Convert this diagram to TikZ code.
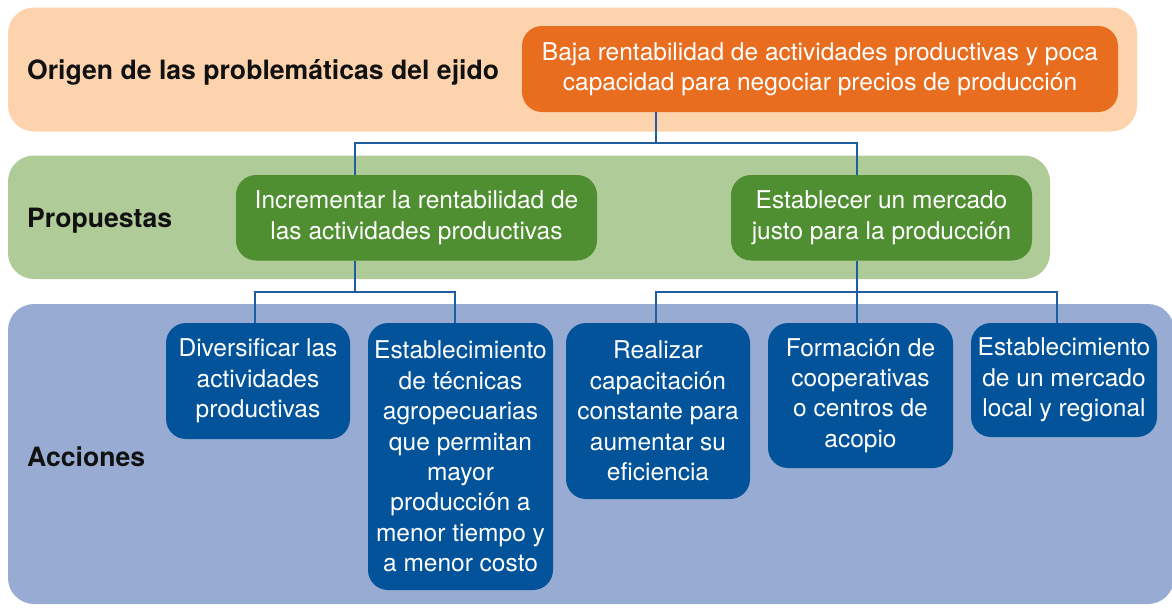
\documentclass[tikz,border=0pt]{standalone}
\usepackage{fontspec}
\setmainfont{TeX Gyre Heros}
\definecolor{bandO}{HTML}{FDD3AD}
\definecolor{bandG}{HTML}{AFCB98}
\definecolor{bandB}{HTML}{98ACD3}
\definecolor{boxO}{HTML}{E86D1F}
\definecolor{boxG}{HTML}{4F8E31}
\definecolor{boxB}{HTML}{02539A}
\definecolor{connC}{HTML}{1D5DA0}
\definecolor{labC}{HTML}{111111}
\tikzset{
  band/.style={rounded corners=26pt},
  box/.style={rounded corners=20pt, inner sep=0pt, align=center, text=white,
    font=\fontsize{24.5}{30.4}\selectfont},
  obox/.style={box, fill=boxO},
  gbox/.style={box, fill=boxG},
  bbox/.style={box, fill=boxB},
  lab/.style={anchor=base west, inner sep=0pt, text=labC,
    font=\fontsize{26.6}{30}\selectfont\bfseries},
  conn/.style={draw=connC, line width=2.2pt}
}
\begin{document}
\begin{tikzpicture}[x=1pt,y=-1pt]
\useasboundingbox (0,0) rectangle (1172,608);
% bands
\fill[bandO, band] (8,7.5) rectangle (1137,131.5);
\fill[bandG, band] (8,155.5) rectangle (1050,279);
\fill[bandB, band] (8,304) rectangle (1174,604);
% labels
\node[lab] (lo) at (27,79.5) {Origen de las problemáticas del ejido};
\node[lab] (lp) at (27,227.5) {Propuestas};
\node[lab] (la) at (27,466) {Acciones};
% boxes
\node[obox, minimum width=596pt, minimum height=86pt] (o) at (820,69)
  {Baja rentabilidad de actividades productivas y poca\\capacidad para negociar precios de producción};
\node[gbox, minimum width=361pt, minimum height=85.5pt] (g1) at (416.5,217.75)
  {Incrementar la rentabilidad de\\las actividades productivas};
\node[gbox, minimum width=301pt, minimum height=85.5pt] (g2) at (881.5,217.75)
  {Establecer un mercado\\justo para la producción};
\node[bbox, minimum width=184pt, minimum height=116pt] (b1) at (258,381)
  {Diversificar las\\actividades\\productivas};
\node[bbox, minimum width=185pt, minimum height=267pt] (b2) at (460.5,456.5)
  {Establecimiento\\de técnicas\\agropecuarias\\que permitan\\mayor\\producción a\\menor tiempo y\\a menor costo};
\node[bbox, minimum width=184pt, minimum height=176pt] (b3) at (658,411)
  {Realizar\\capacitación\\constante para\\aumentar su\\eficiencia};
\node[bbox, minimum width=185pt, minimum height=145pt] (b4) at (860.5,395.5)
  {Formación de\\cooperativas\\o centros de\\acopio};
\node[bbox, minimum width=186pt, minimum height=114pt] (b5) at (1064,380)
  {Establecimiento\\de un mercado\\local y regional};
% junctions
\coordinate (j0) at (656,143);
\coordinate (j1) at (355,143);
\coordinate (j2) at (857,143);
\coordinate (k1) at (355,292);
\coordinate (k1a) at (255,292);
\coordinate (k1b) at (455,292);
\coordinate (k2) at (857,292);
\coordinate (k2a) at (656,292);
\coordinate (k2b) at (1057,292);
% connectors
\draw[conn] (o.south -| j0) -- (j0);
\draw[conn] (j1 |- g1.north) -- (j1) -- (j2) -- (j2 |- g2.north);
\draw[conn] (g1.south -| k1) -- (k1);
\draw[conn] (k1a |- b1.north) -- (k1a) -- (k1b) -- (k1b |- b2.north);
\draw[conn] (g2.south -| k2) -- (k2);
\draw[conn] (k2a |- b3.north) -- (k2a) -- (k2b) -- (k2b |- b5.north);
\draw[conn] (k2) -- (k2 |- b4.north);
\end{tikzpicture}
\end{document}
